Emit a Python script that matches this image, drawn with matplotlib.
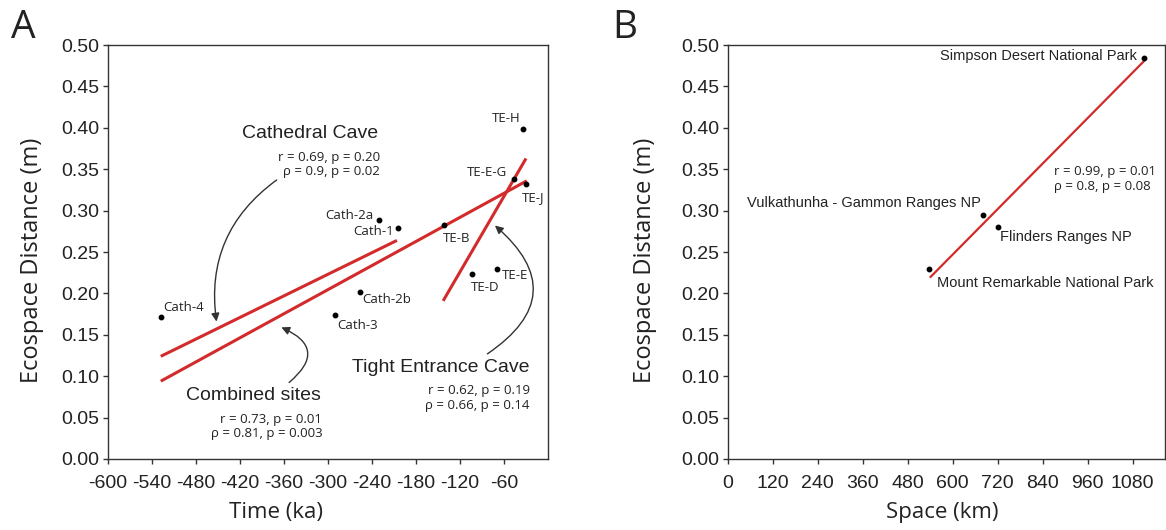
import numpy as np
import matplotlib
matplotlib.use("Agg")
import matplotlib.pyplot as plt

# ---- panel A data (time vs ecospace distance) ----
site_names = ["Cath-4", "Cath-2a", "Cath-1", "Cath-2b", "Cath-3",
              "TE-B", "TE-D", "TE-E", "TE-E-G", "TE-H", "TE-J"]
site_time = [-528, -231, -205, -257, -291, -142, -103, -69, -47, -34, -30]
site_dist = [0.171, 0.289, 0.279, 0.202, 0.174, 0.283, 0.223, 0.230, 0.338, 0.399, 0.332]

# fitted lines (end points)
cath_fit_x = [-528, -206]
cath_fit_y = [0.124, 0.264]
comb_fit_x = [-528, -29]
comb_fit_y = [0.094, 0.336]
te_fit_x = [-143, -30]
te_fit_y = [0.191, 0.363]

cath_stats = "r = 0.69, p = 0.20\nρ = 0.9, p = 0.02"
comb_stats = "r = 0.73, p = 0.01\nρ = 0.81, p = 0.003"
te_stats = "r = 0.62, p = 0.19\nρ = 0.66, p = 0.14"

# ---- panel B data (space vs ecospace distance) ----
park_names = ["Simpson Desert National Park", "Vulkathunha - Gammon Ranges NP",
              "Flinders Ranges NP", "Mount Remarkable National Park"]
park_space = [1111, 680, 720, 537]
park_dist = [0.484, 0.295, 0.280, 0.229]
park_fit_x = [539, 1111]
park_fit_y = [0.219, 0.481]
park_stats = "r = 0.99, p = 0.01\nρ = 0.8, p = 0.08"

# label offsets (points) and alignment
site_offsets = [(1.9, 6.8, "left"), (-3.7, 3.4, "right"), (-2.9, -2.4, "right"),
                (1.9, -5.4, "left"), (1.9, -7.6, "left"), (-0.5, -9.8, "left"),
                (-1.1, -9.3, "left"), (3.5, -5.1, "left"), (-4.5, 4.9, "right"),
                (-1.9, 7.3, "right"), (-2.7, -9.8, "left")]
park_offsets = [(-5.2, 1.6, "right"), (-1.6, 8.8, "right"),
                (1.8, -7.3, "left"), (6.0, -9.6, "left")]

RED = "#d32b2b"
INK = "#222222"
ARIAL = "Liberation Sans"
MYRIAD = "Open Sans"

plt.rcParams["font.family"] = ARIAL
plt.rcParams["axes.unicode_minus"] = False

fig = plt.figure(figsize=(11.66, 5.30), dpi=100)
axA = fig.add_axes([0.0926, 0.1340, 0.3774, 0.781])
axB = fig.add_axes([0.6241, 0.1340, 0.375, 0.781])


def style_axes(ax, ylab_x):
    for s in ax.spines.values():
        s.set_linewidth(1.0)
        s.set_color("#333333")
    ax.tick_params(direction="out", length=3.5, width=1.0, color="#333333",
                   labelsize=14, labelcolor=INK)
    ax.tick_params(axis="x", pad=8)
    ax.tick_params(axis="y", pad=2.5)
    ax.set_ylim(0, 0.5)
    ax.set_yticks(np.arange(0, 0.501, 0.05))
    ax.set_yticklabels(["%.2f" % v for v in np.arange(0, 0.501, 0.05)])
    ax.set_ylabel("Ecospace Distance (m)", fontsize=17, family=MYRIAD, color=INK)
    ax.yaxis.label.set_va("center")
    ax.yaxis.set_label_coords(ylab_x, 0.48)


# ---------------- panel A ----------------
style_axes(axA, -0.1716)
axA.set_xlim(-600, 0)
axA.set_xticks(np.arange(-600, 0, 60))
axA.set_xlabel("Time (ka)", fontsize=16, family=MYRIAD, color=INK)
axA.xaxis.label.set_va("center")
axA.xaxis.set_label_coords(0.382, -0.13)

axA.plot(cath_fit_x, cath_fit_y, color=RED, lw=2.2, solid_capstyle="butt")
axA.plot(comb_fit_x, comb_fit_y, color=RED, lw=2.2, solid_capstyle="butt")
axA.plot(te_fit_x, te_fit_y, color=RED, lw=2.2, solid_capstyle="butt")
axA.plot(site_time, site_dist, "o", color="black", ms=3.2, zorder=5)

for name, x, y, (dx, dy, ha) in zip(site_names, site_time, site_dist, site_offsets):
    axA.annotate(name, (x, y), xytext=(dx, dy), textcoords="offset points",
                 ha=ha, va="center", fontsize=9.5, family=MYRIAD, color=INK)

axA.text(-324, 0.393, "Cathedral Cave", ha="center", va="center", fontsize=14, color=INK)
axA.text(-229, 0.356, cath_stats, ha="right", va="center", fontsize=9.5,
         family=MYRIAD, color=INK, linespacing=1.05)
axA.text(-401, 0.077, "Combined sites", ha="center", va="center", fontsize=14, color=INK)
axA.text(-308, 0.0395, comb_stats, ha="right", va="center", fontsize=9.5,
         family=MYRIAD, color=INK, linespacing=1.15)
axA.text(-25, 0.111, "Tight Entrance Cave", ha="right", va="center", fontsize=14, color=INK)
axA.text(-25, 0.0735, te_stats, ha="right", va="center", fontsize=9.5,
         family=MYRIAD, color=INK, linespacing=1.2)

arrow = dict(arrowstyle="-|>", color="#333333", lw=1.0, mutation_scale=12,
             shrinkA=0, shrinkB=0)
axA.annotate("", xy=(-452, 0.166), xytext=(-370, 0.337),
             arrowprops=dict(arrow, connectionstyle="arc3,rad=0.3"))
axA.annotate("", xy=(-363.6, 0.159), xytext=(-353, 0.0924),
             arrowprops=dict(arrow, connectionstyle="arc3,rad=0.8"))
axA.annotate("", xy=(-72.4, 0.282), xytext=(-82.6, 0.127),
             arrowprops=dict(arrow, connectionstyle="arc3,rad=0.65"))

# ---------------- panel B ----------------
style_axes(axB, -0.189)
axB.set_xlim(0, 1166)
axB.set_xticks(np.arange(0, 1081, 120))
axB.set_xlabel("Space (km)", fontsize=16, family=MYRIAD, color=INK)
axB.xaxis.label.set_va("center")
axB.xaxis.set_label_coords(0.49, -0.13)

axB.plot(park_fit_x, park_fit_y, color=RED, lw=1.6, solid_capstyle="butt")
axB.plot(park_space, park_dist, "o", color="black", ms=3.2, zorder=5)
for name, x, y, (dx, dy, ha) in zip(park_names, park_space, park_dist, park_offsets):
    axB.annotate(name, (x, y), xytext=(dx, dy), textcoords="offset points",
                 ha=ha, va="center", fontsize=10.5, color=INK)
axB.text(869, 0.338, park_stats, ha="left", va="center", fontsize=9.5,
         family=MYRIAD, color=INK, linespacing=1.25)

# panel letters
fig.text(0.0095, 0.947, "A", fontsize=28, family=MYRIAD, color=INK, va="center", ha="left")
fig.text(0.525, 0.947, "B", fontsize=28, family=MYRIAD, color=INK, va="center", ha="left")

fig.savefig("out.png", dpi=100)
